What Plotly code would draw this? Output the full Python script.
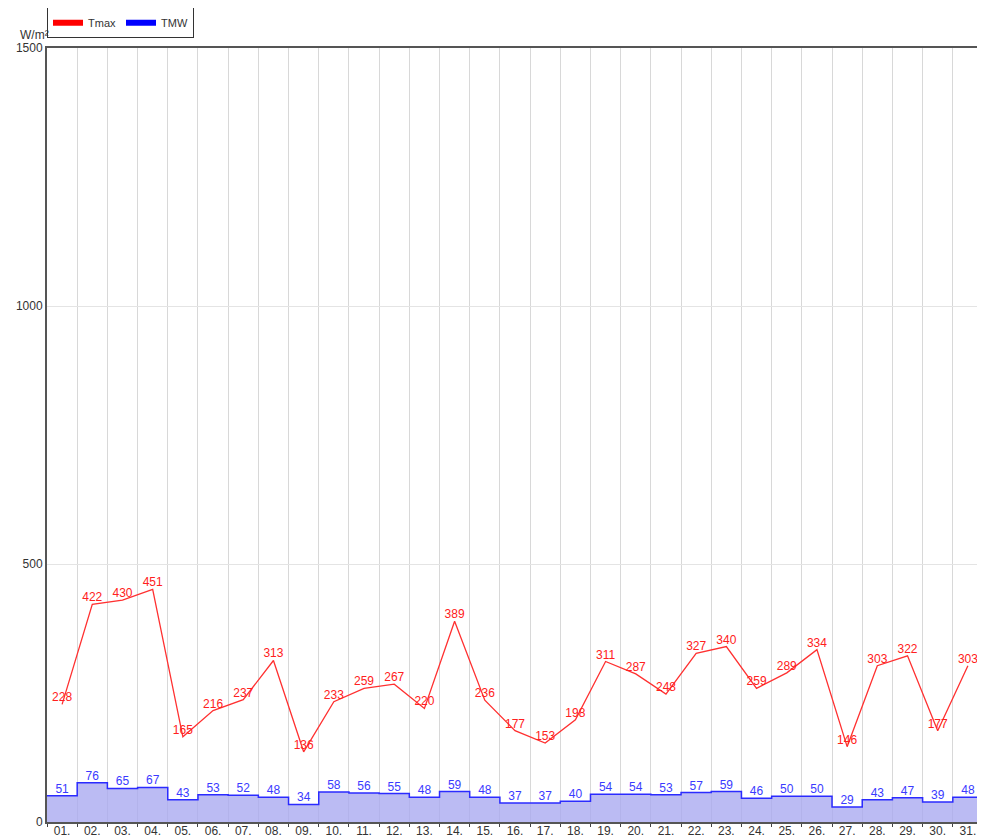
import plotly.graph_objects as go

days = [f"{d:02d}." for d in range(1, 32)]
tmax = [228, 422, 430, 451, 165, 216, 237, 313, 136, 233, 259, 267, 220, 389, 236, 177,
        153, 198, 311, 287, 248, 327, 340, 259, 289, 334, 146, 303, 322, 177, 303]
tmw = [51, 76, 65, 67, 43, 53, 52, 48, 34, 58, 56, 55, 48, 59, 48, 37,
       37, 40, 54, 54, 53, 57, 59, 46, 50, 50, 29, 43, 47, 39, 48]
y_ticks = [0, 500, 1000, 1500]

n = len(days)
centers = [i + 0.5 for i in range(n)]
edges = list(range(n + 1))

font = "Liberation Sans, Arial, sans-serif"
fig = go.Figure()

# TMW step area
fig.add_trace(go.Scatter(
    x=edges, y=tmw + [tmw[-1]], mode="lines", line=dict(shape="hv", color="#2b2bff", width=1.5),
    fill="tozeroy", fillcolor="rgba(170,170,240,0.8)", showlegend=False, hoverinfo="skip"))
fig.add_trace(go.Scatter(
    x=centers, y=tmw, mode="text", text=[str(v) for v in tmw], textposition="top center",
    textfont=dict(color="#3a3aff", size=12, family=font), showlegend=False))

# Tmax line
fig.add_trace(go.Scatter(
    x=centers, y=tmax, mode="lines+text", text=[str(v) for v in tmax], textposition="top center",
    line=dict(color="#ff3030", width=1.3), textfont=dict(color="#ff2020", size=12, family=font),
    showlegend=False))

# legend entries (filled rectangles)
fig.add_trace(go.Scatter(x=[None], y=[None], name="Tmax", mode="none", fill="toself",
                         fillcolor="#ff0000", showlegend=True))
fig.add_trace(go.Scatter(x=[None], y=[None], name="TMW", mode="none", fill="toself",
                         fillcolor="#0000ff", showlegend=True))

fig.update_layout(
    width=977, height=831,
    margin=dict(l=39, r=2, t=40, b=17, autoexpand=False),
    plot_bgcolor="white", paper_bgcolor="white",
    font=dict(family=font, size=12, color="#333333"),
    legend=dict(orientation="h", x=0, xanchor="left", y=1.0125, yanchor="bottom", yref="paper",
                bgcolor="white", bordercolor="#333333", borderwidth=1,
                font=dict(size=11, color="#333333"), itemwidth=30, tracegroupgap=0),
    xaxis=dict(range=[0, n], tickmode="array", tickvals=centers, ticktext=days, automargin=False,
               showgrid=False, ticks="", showline=True, linecolor="#555555", linewidth=2, mirror=True,
               zeroline=False, tickfont=dict(size=12, color="#333333"), ticklabelstandoff=-3,
               minor=dict(tickmode="linear", tick0=0, dtick=1, showgrid=True, gridcolor="#d8d8d8",
                          gridwidth=1, ticks="outside", ticklen=3, tickcolor="#444444")),
    yaxis=dict(range=[0, 1500], tickvals=y_ticks, showgrid=True, gridcolor="#e4e4e4", automargin=False,
               showline=True, linecolor="#555555", linewidth=2, mirror=True, zeroline=False,
               ticks="", tickfont=dict(size=12, color="#333333")),
    annotations=[dict(text="W/m²", xref="paper", yref="paper", x=0, y=1, xanchor="right",
                      yanchor="bottom", showarrow=False, xshift=4, yshift=4,
                      font=dict(size=12, color="#333333"))],
)

fig.write_html("out.html")
